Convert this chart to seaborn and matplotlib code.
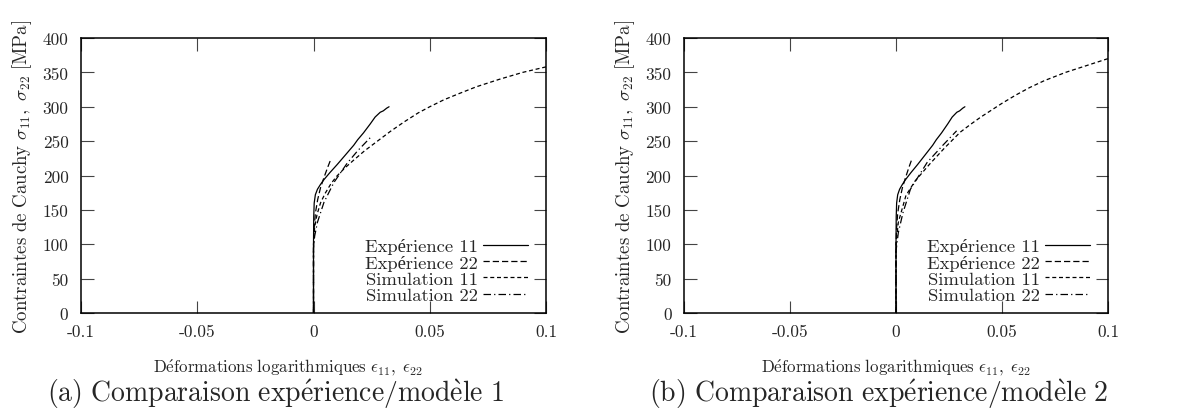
import numpy as np
import pandas as pd
import seaborn as sns
import matplotlib.pyplot as plt
from matplotlib.ticker import FixedLocator, FixedFormatter

# experimental curves (same test shown in both panels)
exp11_x = [0, 0, 0.0001, 0.0003, 0.0008, 0.0017, 0.003, 0.0045, 0.007, 0.0102,
           0.0135, 0.0173, 0.019, 0.0215, 0.0244, 0.0265, 0.0287, 0.030, 0.0315, 0.0325]
exp11_y = [0, 100, 140, 160, 172, 180, 187, 194, 204, 216,
           229, 244, 252, 262, 275, 285, 292, 294, 298, 300]
exp22_x = [0, 0, 0.0002, 0.0008, 0.0018, 0.003, 0.0045, 0.006, 0.0075]
exp22_y = [0, 90, 120, 145, 165, 182, 197, 211, 224]

# model 1
sim11_m1_x = [0, 0, 0.0005, 0.0015, 0.003, 0.005, 0.0075, 0.01, 0.0135, 0.0175, 0.022,
              0.0275, 0.033, 0.039, 0.045, 0.05, 0.056, 0.0625, 0.07, 0.08, 0.09, 0.1]
sim11_m1_y = [0, 100, 125, 143, 160, 174, 188, 199, 211, 223, 236,
              250, 264, 278, 291, 300, 310, 319, 329, 340, 350, 358]
sim22_m1_x = [0, 0, 0.0005, 0.0017, 0.0045, 0.0088, 0.0145, 0.019, 0.0244]
sim22_m1_y = [0, 95, 112, 132, 161, 190, 218, 236, 255]

# model 2
sim11_m2_x = [0, 0, 0.0011, 0.0047, 0.009, 0.016, 0.0232, 0.0303, 0.035, 0.04,
              0.045, 0.05, 0.0565, 0.0631, 0.07, 0.08, 0.09, 0.1]
sim11_m2_y = [0, 100, 132, 171, 192, 217, 241, 263, 274, 285,
              295, 305, 317, 328, 338, 350, 360, 370]
sim22_m2_x = [0, 0, 0.0011, 0.0033, 0.0068, 0.0147, 0.0218, 0.0286]
sim22_m2_y = [0, 90, 117, 146, 180, 219, 243, 265]

series_names = ['Expérience 11', 'Expérience 22', 'Simulation 11', 'Simulation 22']
captions = [r'$\mathrm{(a)\ Comparaison\ exp\acute{e}rience/mod\grave{e}le\ 1}$',
            r'$\mathrm{(b)\ Comparaison\ exp\acute{e}rience/mod\grave{e}le\ 2}$']
x_ticks = [-0.1, -0.05, 0, 0.05, 0.1]
x_ticklabels = ['-0.1', '-0.05', '0', '0.05', '0.1']
y_ticks = [0, 50, 100, 150, 200, 250, 300, 350, 400]

sns.set_theme(style="ticks")
# cmr10 has no accented letters: they come from the next family
plt.rcParams['font.family'] = ['cmr10', 'Liberation Serif']
plt.rcParams['mathtext.fontset'] = 'cm'
plt.rcParams['axes.unicode_minus'] = False

styles = [
    '-',
    (0, (5, 2.4)),
    (0, (3.2, 2.2)),
    (0, (6, 2.5, 1, 2.5)),
]


def build_df(sim11_x, sim11_y, sim22_x, sim22_y):
    parts = []
    for name, xs, ys in zip(series_names,
                            [exp11_x, exp22_x, sim11_x, sim22_x],
                            [exp11_y, exp22_y, sim11_y, sim22_y]):
        parts.append(pd.DataFrame({'eps': xs, 'sig': ys, 'serie': name}))
    return pd.concat(parts, ignore_index=True)


frames = [build_df(sim11_m1_x, sim11_m1_y, sim22_m1_x, sim22_m1_y),
          build_df(sim11_m2_x, sim11_m2_y, sim22_m2_x, sim22_m2_y)]

fig = plt.figure(figsize=(11.8, 4.1), dpi=100)
axes = [fig.add_axes([81 / 1180, 96 / 410, 465 / 1180, 275 / 410]),
        fig.add_axes([684 / 1180, 96 / 410, 424 / 1180, 275 / 410])]
cap_x = [276 / 1180, 879 / 1180]
ylab_x = [-0.127, -0.139]
xlab_x = [0.445, 0.5]
leg_right = [1 - 18 / 465, 1 - 18 / 424]

for ax, df, cap, cx, yx, xx, lr in zip(axes, frames, captions, cap_x, ylab_x,
                                       xlab_x, leg_right):
    for name, ls in zip(series_names, styles):
        sub = df[df['serie'] == name]
        sns.lineplot(data=sub, x='eps', y='sig', ax=ax, color='black',
                     linewidth=0.9, linestyle=ls, sort=False,
                     estimator=None, label=name)
    ax.set_xlim(-0.1, 0.1)
    ax.set_ylim(0, 400)
    ax.xaxis.set_major_locator(FixedLocator(x_ticks))
    ax.xaxis.set_major_formatter(FixedFormatter(x_ticklabels))
    ax.set_yticks(y_ticks)
    ax.tick_params(direction='in', length=9, width=0.8, top=True, right=True,
                   labelsize=12.5, color='#444444')
    ax.tick_params(axis='x', pad=8)
    ax.tick_params(axis='y', pad=9)
    for sp in ax.spines.values():
        sp.set_linewidth(1.1)
        sp.set_color('black')
    ax.set_xlabel(r'$\mathrm{D\acute{e}formations\ logarithmiques}\ \epsilon_{11},\ \epsilon_{22}$',
                  fontsize=12.2)
    ax.xaxis.set_label_coords(xx, -0.16)
    ax.set_ylabel(r'$\mathrm{Contraintes\ de\ Cauchy}\ \sigma_{11},\ \sigma_{22}\ \mathrm{[MPa]}$',
                  fontsize=13.6, va='center')
    ax.yaxis.set_label_coords(yx, 0.5)
    ax.legend(loc='lower right', bbox_to_anchor=(lr, 0.035), markerfirst=False,
              frameon=False, fontsize=13.4, handlelength=2.4, handletextpad=0.3,
              labelspacing=0.02, borderaxespad=0, borderpad=0)
    fig.text(cx, 0.04, cap, ha='center', va='center', fontsize=20)

fig.savefig('out.png', dpi=100)
